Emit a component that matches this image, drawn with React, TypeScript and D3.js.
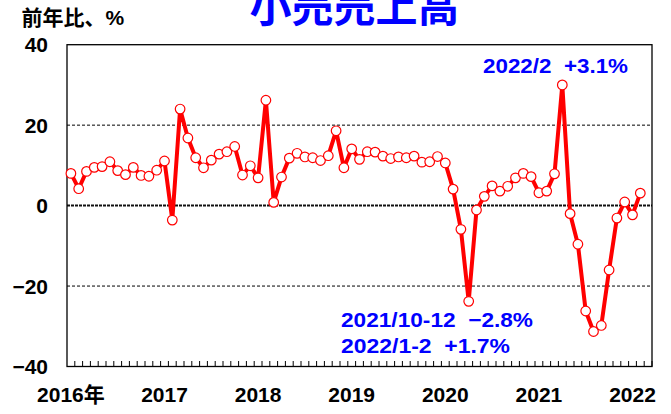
import React, { useEffect, useRef } from "react";
import * as d3 from "d3";

// year-on-year change, %, monthly 2016/1 .. 2022/2
const values: number[] = [
  8.0, 4.2, 8.5, 9.5, 9.7, 10.9, 8.7, 7.7, 9.5, 7.5, 7.3, 8.8,
  11.1, -3.6, 24.0, 16.8, 11.9, 9.4, 11.3, 12.8, 13.4, 14.7, 7.6, 9.9,
  6.9, 26.2, 0.8, 7.1, 11.8, 13.0, 12.1, 11.9, 11.2, 12.4, 18.6, 9.4,
  14.1, 11.5, 13.4, 13.3, 12.3, 11.7, 12.1, 11.9, 12.3, 10.8, 10.9, 12.2,
  10.6, 4.1, -5.9, -23.8, -1.1, 2.3, 4.9, 3.6, 4.8, 6.9, 8.0, 7.2,
  3.2, 3.6, 7.9, 30.0, -2.0, -9.6, -26.2, -31.3, -29.8, -16.0, -3.1, 0.9,
  -2.3, 3.1,
];

const years: number[] = [2016, 2017, 2018, 2019, 2020, 2021, 2022];
const yearLabels: string[] = ["2016年", "2017", "2018", "2019", "2020", "2021", "2022"];
const yTicks: number[] = [-40, -20, 0, 20, 40];
const gridDashed: number[] = [-20, 20];

const notes: { text: string; x: number; y: number; len: number }[] = [
  { text: "2022/2  +3.1%", x: 483, y: 73, len: 145 },
  { text: "2021/10-12  −2.8%", x: 341, y: 326.5, len: 192 },
  { text: "2022/1-2  +1.7%", x: 341, y: 353, len: 169 },
];

// axis runs one month past the last value (through 2022/3)
const months: string[] = [];
years.forEach(y => {
  for (let m = 1; m <= 12; m++) months.push(`${y}/${m}`);
});
const axisMonths = months.slice(0, 75);

const App = () => {
  const svgRef = useRef<SVGSVGElement>(null);

  useEffect(() => {
    const svg = d3.select(svgRef.current);
    svg.selectAll("*").remove();

    const width = 671, height = 414;
    const left = 67, right = 652, top = 44.7, bottom = 366.5;
    const numFont = "'Liberation Sans', Arial, sans-serif";
    const jpFont = "'Noto Sans CJK JP', sans-serif";

    const x = d3.scaleBand().domain(axisMonths).range([left, right]).padding(0);
    const y = d3.scaleLinear().domain([-40, 40]).range([bottom, top]);
    const cx = (i: number) => (x(months[i]) as number) + x.bandwidth() / 2;

    svg.append("rect").attr("width", width).attr("height", height).attr("fill", "#fff");

    // grid
    svg.selectAll(".grid")
      .data(gridDashed)
      .enter()
      .append("line")
      .attr("x1", left).attr("x2", right)
      .attr("y1", d => y(d)).attr("y2", d => y(d))
      .attr("stroke", "#000").attr("stroke-width", 1)
      .attr("stroke-dasharray", "3,2");

    svg.append("line")
      .attr("x1", left).attr("x2", right)
      .attr("y1", y(0)).attr("y2", y(0))
      .attr("stroke", "#111").attr("stroke-width", 2)
      .attr("stroke-dasharray", "3,1");

    // frame
    svg.append("rect")
      .attr("x", left).attr("y", top)
      .attr("width", right - left).attr("height", bottom - top)
      .attr("fill", "none").attr("stroke", "#000").attr("stroke-width", 1.3);

    // month ticks
    svg.selectAll(".tick")
      .data(axisMonths.slice(1).concat(["end"]))
      .enter()
      .append("line")
      .attr("x1", (d, i) => left + (i + 1) * x.bandwidth())
      .attr("x2", (d, i) => left + (i + 1) * x.bandwidth())
      .attr("y1", bottom).attr("y2", bottom - 5.5)
      .attr("stroke", "#000").attr("stroke-width", 1);

    // y labels
    svg.selectAll(".ylab")
      .data(yTicks)
      .enter()
      .append("text")
      .attr("x", 48).attr("y", d => y(d) + 7.5)
      .attr("text-anchor", "end")
      .attr("font-family", numFont).attr("font-weight", "bold").attr("font-size", 21)
      .text(d => (d < 0 ? "−" + Math.abs(d) : String(d)));

    // x labels
    svg.selectAll(".xlab")
      .data(years)
      .enter()
      .append("text")
      .attr("x", d => cx(months.indexOf(`${d}/1`)))
      .attr("y", 401.5)
      .attr("text-anchor", "middle")
      .attr("font-family", (d, i) => (i === 0 ? `'Liberation Sans', ${jpFont}` : numFont))
      .attr("font-weight", "bold").attr("font-size", 21)
      .text((d, i) => yearLabels[i]);

    // series
    const line = d3.line<number>().x((d, i) => cx(i)).y(d => y(d));
    svg.append("path")
      .datum(values)
      .attr("d", line)
      .attr("fill", "none").attr("stroke", "#ff0000")
      .attr("stroke-width", 4).attr("stroke-linejoin", "round");

    svg.selectAll(".dot")
      .data(values)
      .enter()
      .append("circle")
      .attr("cx", (d, i) => cx(i)).attr("cy", d => y(d))
      .attr("r", 4.8)
      .attr("fill", "#fff").attr("stroke", "#ff0000").attr("stroke-width", 1.2);

    // annotations
    svg.selectAll(".note")
      .data(notes)
      .enter()
      .append("text")
      .attr("x", d => d.x).attr("y", d => d.y)
      .attr("textLength", d => d.len).attr("lengthAdjust", "spacingAndGlyphs")
      .style("white-space", "pre")
      .attr("font-family", numFont).attr("font-weight", "bold").attr("font-size", 21)
      .attr("fill", "#0000ff")
      .text(d => d.text);

    // titles (the top of the main title is cut by the page edge, as in the source)
    svg.append("text")
      .attr("x", 354.5).attr("y", 22)
      .attr("text-anchor", "middle")
      .attr("font-family", jpFont).attr("font-weight", "bold").attr("font-size", 42)
      .attr("fill", "#0000ff")
      .text("小売売上高");

    const unit = svg.append("text")
      .attr("x", 21.5).attr("y", 25)
      .attr("font-family", jpFont).attr("font-weight", "bold").attr("font-size", 21)
      .attr("fill", "#000");
    unit.append("tspan").text("前年比、");
    unit.append("tspan").attr("font-family", numFont).text("%");
  }, []);

  return (
    <svg ref={svgRef} width={671} height={414}
      style={{ position: "absolute", left: 0, top: 0 }} />
  );
};

export default App;
